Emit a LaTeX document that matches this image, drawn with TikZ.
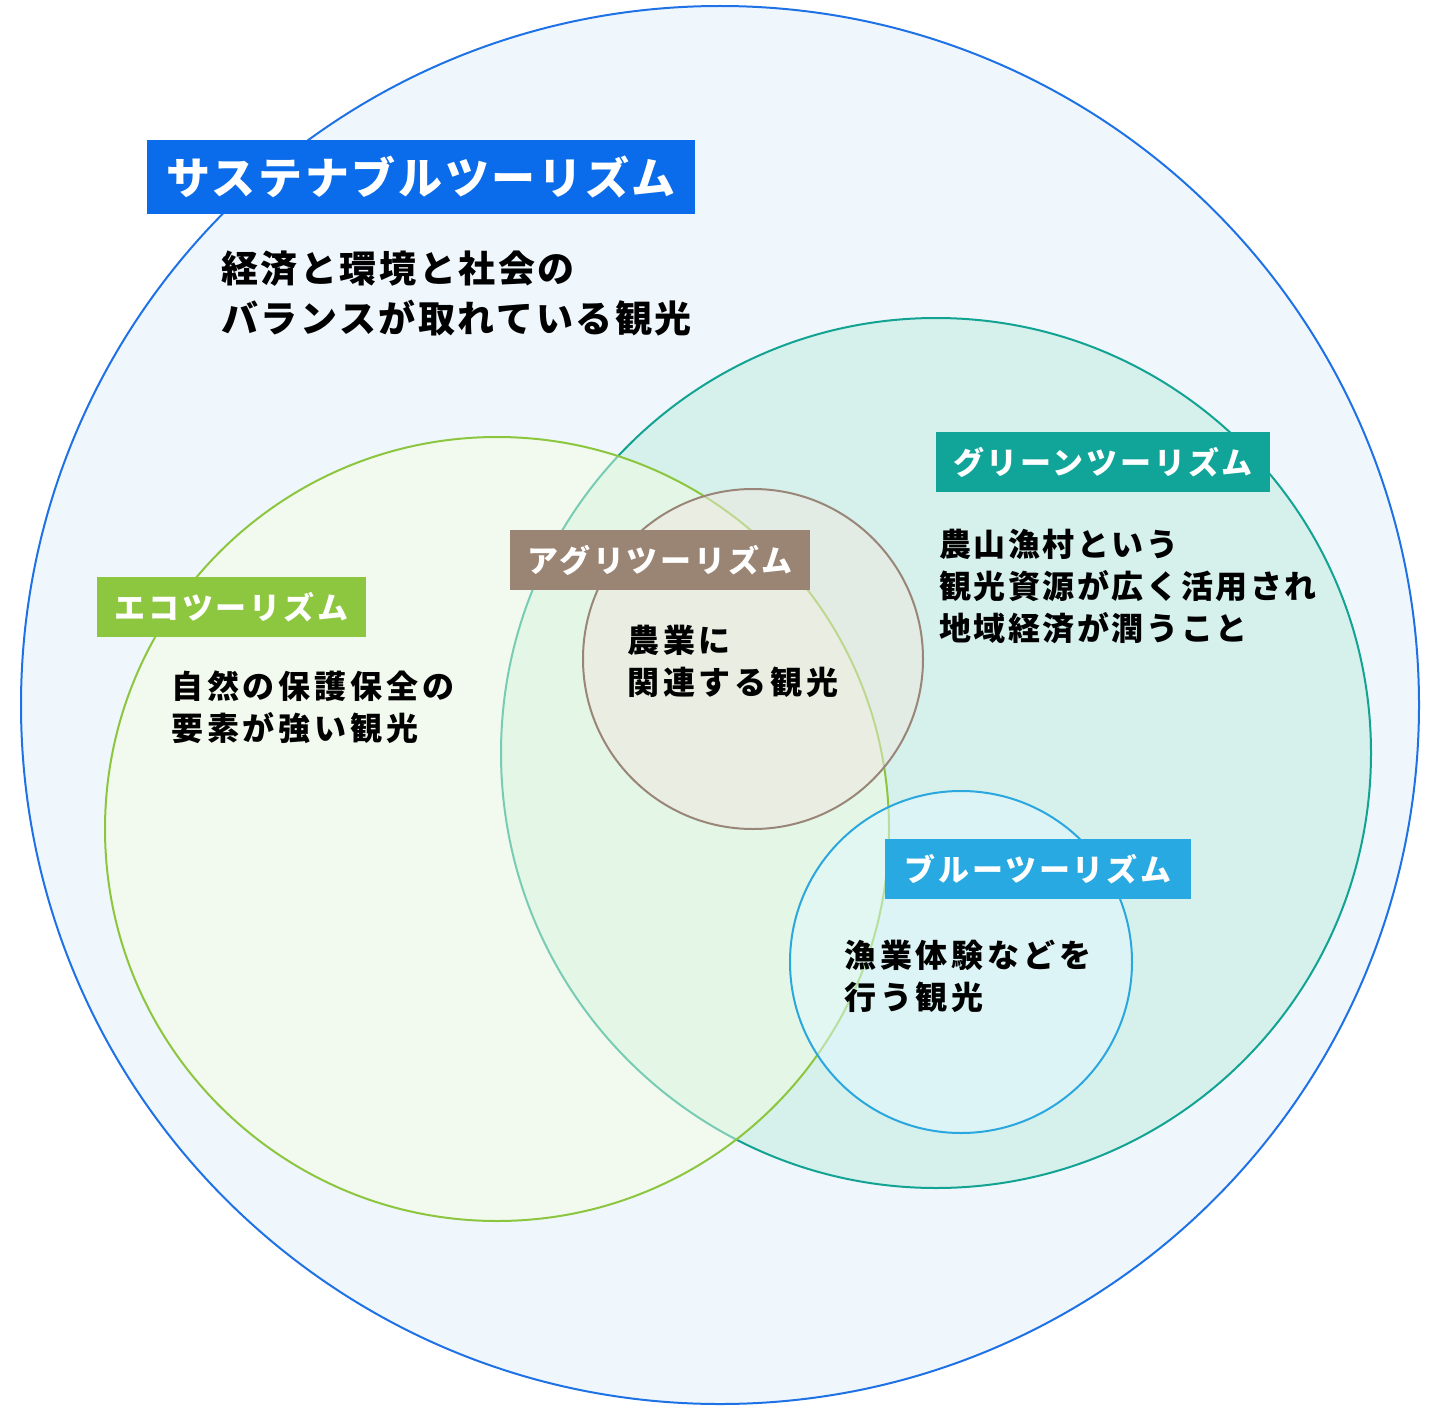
\documentclass[tikz,border=0pt]{standalone}
\usepackage{fontspec}
\newfontfamily\jpfont{Noto Sans CJK JP}[LetterSpace=12]
\newfontfamily\jpnarrow{Noto Sans CJK JP}[LetterSpace=8]
\newfontfamily\jphead{Noto Sans CJK JP}[LetterSpace=7]
\newfontfamily\jptag{Noto Sans CJK JP}[LetterSpace=9]
\newfontfamily\jptitle{Noto Sans CJK JP}[LetterSpace=6]

\definecolor{sustline}{HTML}{1F72E6}
\definecolor{sustfill}{HTML}{EFF7FD}
\definecolor{susttag}{HTML}{0A6CEA}
\definecolor{greenline}{HTML}{12A393}
\definecolor{greenfill}{HTML}{D6F0EC}
\definecolor{greentag}{HTML}{10A598}
\definecolor{ecoline}{HTML}{8CC63F}
\definecolor{ecofill}{HTML}{F6FEDE}
\definecolor{ecotag}{HTML}{8DC63F}
\definecolor{agriline}{HTML}{9A8679}
\definecolor{agrifill}{HTML}{F0E8E0}
\definecolor{agritag}{HTML}{9A8474}
\definecolor{blueline}{HTML}{2AA7DF}
\definecolor{bluefill}{HTML}{E2F8FF}
\definecolor{bluetag}{HTML}{29A9E1}

\tikzset{
  ring/.style={line width=2pt},
  tag/.style={text=white, inner sep=0pt, minimum height=60pt,
    font=\jptag\bfseries\fontsize{31}{36}\selectfont},
  note/.style={anchor=west, align=left, inner sep=0pt,
    font=\jpfont\bfseries\fontsize{32}{42}\selectfont},
}

\begin{document}
\begin{tikzpicture}[x=1pt,y=-1pt]
\useasboundingbox (0,0) rectangle (1440,1410);

% circles, back to front
\draw[ring, draw=sustline, fill=sustfill] (720,705) circle[radius=699pt];
\draw[ring, draw=greenline, fill=greenfill] (936,753) circle[radius=435pt];
\draw[ring, draw=ecoline, fill=ecofill, fill opacity=0.45] (497,829) circle[radius=392pt];
\draw[ring, draw=agriline, fill=agrifill, fill opacity=0.5] (753,659) circle[radius=170pt];
\draw[ring, draw=blueline, fill=bluefill, fill opacity=0.5] (961,962) circle[radius=171pt];

% labels
\node[tag, fill=susttag, minimum width=548pt, minimum height=74pt,
  font=\jptitle\bfseries\fontsize{44}{50}\selectfont] (sust) at (421,177) {サステナブルツーリズム};
\node[tag, fill=greentag, minimum width=334pt] (green) at (1103,462) {グリーンツーリズム};
\node[tag, fill=ecotag, minimum width=269pt] (eco) at (231.5,607) {エコツーリズム};
\node[tag, fill=agritag, minimum width=300pt] (agri) at (660,560) {アグリツーリズム};
\node[tag, fill=bluetag, minimum width=306pt] (blue) at (1038,869) {ブルーツーリズム};

% descriptions
\node[note, font=\jphead\bfseries\fontsize{37}{50}\selectfont] (sustnote) at (221,293)
  {経済と環境と社会の\\バランスが取れている観光};
\node[note, font=\jpnarrow\bfseries\fontsize{32}{42}\selectfont] (greennote) at (939,587)
  {農山漁村という\\観光資源が広く活用され\\地域経済が潤うこと};
\node[note] (econote) at (171,707) {自然の保護保全の\\要素が強い観光};
\node[note] (agrinote) at (627,661.5) {農業に\\関連する観光};
\node[note] (bluenote) at (844,976) {漁業体験などを\\行う観光};
\end{tikzpicture}
\end{document}
